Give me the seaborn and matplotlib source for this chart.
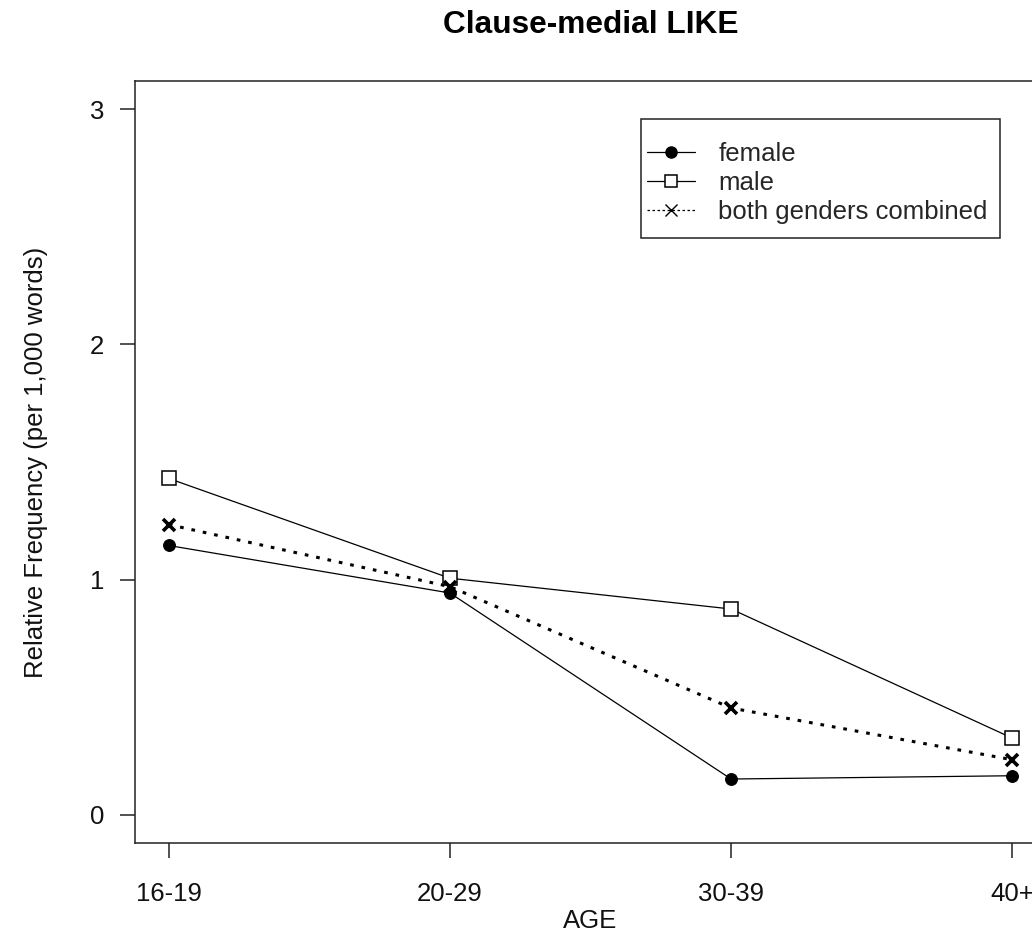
import matplotlib
matplotlib.use("Agg")
import matplotlib.pyplot as plt
from matplotlib.lines import Line2D
from matplotlib.patches import Rectangle
import seaborn as sns
import pandas as pd

ages = ["16-19", "20-29", "30-39", "40+"]
female = [1.145, 0.943, 0.152, 0.166]
male = [1.43, 1.006, 0.875, 0.326]
combined = [1.234, 0.97, 0.454, 0.234]
y_ticks = [0, 1, 2, 3]

sns.set_theme(style="white")
plt.rcParams["font.family"] = ["Liberation Sans", "DejaVu Sans"]

W, H = 1032, 935
fig = plt.figure(figsize=(W / 100, H / 100), dpi=100)
left, right, top, bottom = 135, 1046, 81, 843
ax = fig.add_axes([left / W, 1 - bottom / H, (right - left) / W, (bottom - top) / H])

df_f = pd.DataFrame({"age": ages, "val": female})
df_m = pd.DataFrame({"age": ages, "val": male})
df_c = pd.DataFrame({"age": ages, "val": combined})

sns.lineplot(data=df_f, x="age", y="val", sort=False, ax=ax, color="black",
             linewidth=0.9, marker="o", markersize=8.5, markeredgecolor="black",
             markerfacecolor="black")
sns.lineplot(data=df_m, x="age", y="val", sort=False, ax=ax, color="black",
             linewidth=0.9, marker="s", markersize=9.5, markeredgecolor="black",
             markerfacecolor="white", markeredgewidth=1.1)
sns.lineplot(data=df_c, x="age", y="val", sort=False, ax=ax, color="black",
             linewidth=2.2, linestyle=(0, (1.2, 2.6)), marker="x", markersize=8.5,
             markeredgewidth=2.6, markeredgecolor="black")

ax.set_xlim(-0.12, 3.12)
ax.set_ylim(-0.12, 3.12)
ax.set_xticks(range(len(ages)))
ax.set_xticklabels(ages)
ax.set_yticks(y_ticks)
ax.set_yticklabels([str(v) for v in y_ticks])

for s in ax.spines.values():
    s.set_visible(True)
    s.set_color("#222222")
    s.set_linewidth(1.1)

ax.tick_params(axis="both", which="major", direction="out", length=11, width=1.1,
               color="#222222", labelsize=18.5, labelcolor="#111111",
               bottom=True, left=True)
ax.tick_params(axis="x", pad=17)
ax.tick_params(axis="y", pad=11)

ax.set_xlabel("AGE", fontsize=18.5, labelpad=2.5, color="#111111")
ax.set_ylabel("Relative Frequency (per 1,000 words)", fontsize=18.5,
              labelpad=30, color="#111111")

fig.text((left + right) / 2 / W, 1 - 25 / H, "Clause-medial LIKE",
         ha="center", va="center", fontsize=22.8, fontweight="bold", color="black")

handles = [
    Line2D([], [], color="black", linewidth=0.9, marker="o", markersize=8,
           markerfacecolor="black"),
    Line2D([], [], color="black", linewidth=0.9, marker="s", markersize=9,
           markerfacecolor="white", markeredgewidth=1.1),
    Line2D([], [], color="black", linewidth=0.9, linestyle=(0, (2, 2)), marker="x",
           markersize=9, markeredgewidth=1.0),
]
leg = ax.legend(handles, ["female", "male", "both genders combined"],
                loc="upper left", bbox_to_anchor=(647 / W, 1 - 142 / H),
                bbox_transform=fig.transFigure, borderaxespad=0, borderpad=0,
                fontsize=18.5, frameon=False, handlelength=1.87,
                handletextpad=0.9, labelspacing=0.2)

# legend box outline
fig.patches.append(Rectangle((641 / W, 1 - 238 / H), 359 / W, 119 / H,
                             transform=fig.transFigure, fill=False,
                             edgecolor="#222222", linewidth=1.1, zorder=5))

fig.savefig("out.png", dpi=100, facecolor="white")
